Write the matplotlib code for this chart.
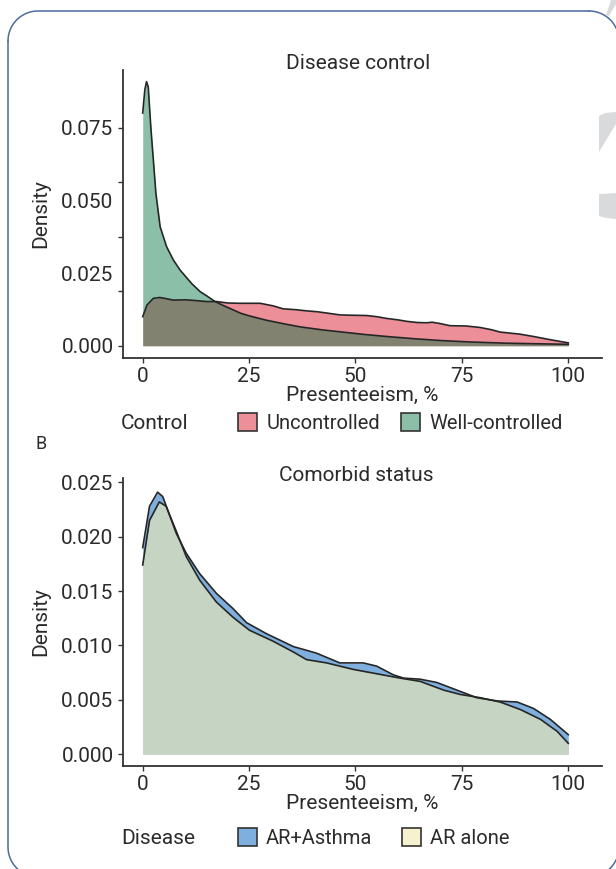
import numpy as np
import matplotlib
matplotlib.use("Agg")
from matplotlib import pyplot as plt
from matplotlib.patches import Patch, Polygon
from matplotlib.colors import to_rgba

plt.rcParams["font.family"] = ["Roboto", "DejaVu Sans"]

# --- panel A: disease control ---
unctrl_x = [0, 1, 2.5, 4, 5.5, 7.2, 10, 12, 15, 17.4, 20, 22.9, 27.6, 30.7, 33, 36,
            38.5, 41, 43, 46.4, 49, 52.6, 55, 57.3, 60, 62, 64.5, 66.7, 68, 70,
            72.2, 76, 79.2, 82, 84, 86, 88.6, 91.8, 95.7, 100]
unctrl_y = [0.0100, 0.0140, 0.0163, 0.0166, 0.0162, 0.0157, 0.0158, 0.0156, 0.0152,
            0.0152, 0.0147, 0.0146, 0.0146, 0.0137, 0.0127, 0.0124, 0.0120, 0.0117,
            0.0113, 0.0106, 0.0105, 0.0104, 0.0100, 0.0094, 0.0089, 0.0084, 0.0080,
            0.0079, 0.0081, 0.0076, 0.0069, 0.0068, 0.0063, 0.0055, 0.0047, 0.0044,
            0.0040, 0.0032, 0.0021, 0.0010]

well_x = [0, 0.5, 0.9, 1.3, 1.9, 2.5, 3.1, 4.1, 5.6, 7.2, 8.8, 11.5, 13.5, 15, 17,
          19, 21, 23, 25, 29, 33, 37, 42, 47, 52, 58, 64, 70, 77, 85, 92, 100]
well_y = [0.0800, 0.0880, 0.0908, 0.0890, 0.0753, 0.0639, 0.0524, 0.0409, 0.0341,
          0.0295, 0.0260, 0.0214, 0.0186, 0.0172, 0.0152, 0.0138, 0.0125, 0.0112,
          0.0103, 0.0088, 0.0076, 0.0065, 0.0055, 0.0047, 0.0039, 0.0031, 0.0024,
          0.0018, 0.0013, 0.0009, 0.0007, 0.0005]

# --- panel B: comorbid status ---
asthma_x = [0, 1.6, 3.5, 4.7, 6.3, 7.9, 10.2, 13.4, 17.3, 21.2, 24.4, 29, 35.4, 40.8,
            46.3, 51.8, 55, 58.9, 61.3, 65.2, 69.1, 73.8, 78.5, 83.3, 88, 91.9,
            95.8, 100]
asthma_y = [0.0190, 0.0228, 0.0241, 0.0237, 0.0220, 0.0203, 0.0185, 0.0166, 0.0148,
            0.0134, 0.0121, 0.0111, 0.0099, 0.0093, 0.0084, 0.0084, 0.0081, 0.0073,
            0.0070, 0.0069, 0.0066, 0.0059, 0.0052, 0.0049, 0.0048, 0.0042, 0.0032,
            0.0018]

alone_x = [0, 1.6, 3.9, 5.5, 7.9, 10.2, 13.4, 17.3, 21.2, 25.1, 30.6, 35.4, 38.5,
           43.2, 49.5, 55, 60.5, 65.2, 70.7, 74.6, 79.3, 84, 88.8, 93.5, 97.4, 100]
alone_y = [0.0174, 0.0215, 0.0232, 0.0228, 0.0205, 0.0182, 0.0160, 0.0140, 0.0126,
           0.0114, 0.0104, 0.0094, 0.0087, 0.0084, 0.0078, 0.0074, 0.0070, 0.0067,
           0.0059, 0.0055, 0.0052, 0.0048, 0.0041, 0.0032, 0.0021, 0.0010]

x_ticks = [0, 25, 50, 75, 100]
a_major_ticks = [0, 0.01875, 0.0375, 0.05625, 0.075]
a_major_labels = ["0.000", "", "", "", "0.075"]
a_minor_ticks = [0.025, 0.05]
a_minor_labels = ["0.025", "0.050"]
b_ticks = [0, 0.005, 0.010, 0.015, 0.020, 0.025]

FS = 15
INK = "#2b2b2b"
LINE = "#262626"
FRAME = "#4d6b9c"

fig = plt.figure(figsize=(6.16, 8.69), dpi=100)
W, H = 616.0, 869.0


def fig_line(xs, ys):
    # pixel coordinates measured from the top-left corner
    fig.add_artist(plt.Line2D(np.asarray(xs) / W, 1 - np.asarray(ys) / H,
                              transform=fig.transFigure, color=FRAME, lw=1.1))


# rounded frame: only the parts that fall inside the canvas
R = 30
t = np.linspace(0, np.pi / 2, 30)
fig_line(list(38 - R * np.cos(t)) + [589], list(41 - R * np.sin(t)) + [11])
t = np.linspace(0, np.arcsin(27 / 30), 20)
fig_line(589 + R * np.sin(t), 41 - R * np.cos(t))
t = np.linspace(0, np.arcsin(22 / 30), 20)
fig_line([8] + list(38 - R * np.cos(t)), [41] + list(847 + R * np.sin(t)))
t = np.linspace(np.arccos(27 / 30), np.arcsin(22 / 30), 10)
fig_line(589 + R * np.cos(t), 847 + R * np.sin(t))

for pts in ([(606, 15), (611, 0), (616, 0), (616, 4), (609, 16)],
            [(599, 116), (605, 113), (616, 112), (616, 124), (599, 152)],
            [(599, 194), (616, 193), (616, 219), (606, 218), (599, 216)]):
    fig.add_artist(Polygon([(px / W, 1 - py / H) for px, py in pts], closed=True,
                           transform=fig.transFigure, facecolor="#d9dadc",
                           edgecolor="none"))


def px_axes(left, top, right, bottom):
    return fig.add_axes([left / W, 1 - bottom / H, (right - left) / W, (bottom - top) / H])


def style_axes(ax):
    ax.patch.set_alpha(0)
    for s in ("top", "right"):
        ax.spines[s].set_visible(False)
    for s in ("left", "bottom"):
        ax.spines[s].set_color("#333333")
        ax.spines[s].set_linewidth(1.3)
    ax.tick_params(which="major", length=3.6, width=1.0, color="#333333",
                   labelsize=FS, labelcolor=INK, pad=3.0)
    ax.set_xlim(-4.7, 107.85)
    ax.set_xticks(x_ticks)
    ax.set_xlabel("Presenteeism, %", fontsize=FS, color=INK, labelpad=0)
    ax.set_ylabel("Density", fontsize=FS, color=INK, labelpad=8)


def density(ax, x, y, color, alpha):
    ax.fill_between(x, 0, y, color=color, alpha=alpha, lw=0)
    ax.plot(x, y, color=LINE, lw=1.2)


# panel A
ax1 = px_axes(122.7, 70, 601.7, 357.7)
style_axes(ax1)
density(ax1, unctrl_x, unctrl_y, "#d5071d", 0.45)
density(ax1, well_x, well_y, "#00733e", 0.45)
ax1.set_ylim(-0.0041, 0.0948)
ax1.set_yticks(a_major_ticks)
ax1.set_yticklabels(a_major_labels)
ax1.set_yticks(a_minor_ticks, minor=True)
ax1.set_yticklabels(a_minor_labels, minor=True)
ax1.tick_params(axis="y", which="minor", length=0, labelsize=FS, labelcolor=INK, pad=6.6)
ax1.text(0.491, 1.024, "Disease control", transform=ax1.transAxes, ha="center",
         va="center", fontsize=FS, color=INK)

# panel B
ax2 = px_axes(122.7, 478, 601.7, 766)
style_axes(ax2)
density(ax2, asthma_x, asthma_y, "#2a7bc8", 0.6)
density(ax2, alone_x, alone_y, "#f2ebb3", 0.62)
ax2.set_ylim(-0.00108, 0.0254)
ax2.set_yticks(b_ticks)
ax2.set_yticklabels(["%.3f" % t for t in b_ticks])
ax2.text(0.487, 1.010, "Comorbid status", transform=ax2.transAxes, ha="center",
         va="center", fontsize=FS, color=INK)

fig.text(41 / W, 1 - 444 / H, "B", fontsize=13, color=INK, ha="center", va="center")


def legend_row(title, y, labels, colors, alphas, colspace):
    fig.text(121 / W, 1 - y / H, title, fontsize=FS, color=INK, ha="left", va="center")
    handles = [Patch(facecolor=to_rgba(c, a), edgecolor="#333333", lw=1.2)
               for c, a in zip(colors, alphas)]
    fig.legend(handles, labels, loc="center left", bbox_to_anchor=(238 / W, 1 - y / H),
               ncol=2, frameon=False, fontsize=14.5, handlelength=0.95,
               handleheight=0.95, handletextpad=0.45, columnspacing=colspace,
               borderpad=0, borderaxespad=0, labelcolor=INK)


legend_row("Control", 423, ["Uncontrolled", "Well-controlled"],
           ["#d5071d", "#00733e"], [0.45, 0.45], 1.05)
legend_row("Disease", 838, ["AR+Asthma", "AR alone"],
           ["#2a7bc8", "#f2ebb3"], [0.6, 0.62], 1.45)

fig.savefig("out.png", dpi=100)
